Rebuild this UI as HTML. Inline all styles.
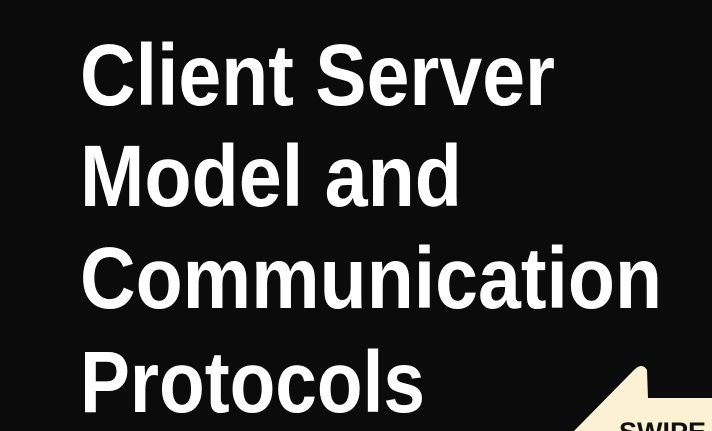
<!DOCTYPE html>
<html><head><meta charset="utf-8"><style>
html,body{margin:0;padding:0;background:#0b0b0b;overflow:hidden}
svg{display:block}
</style></head><body>
<svg width="712" height="431" viewBox="0 0 712 431" xmlns="http://www.w3.org/2000/svg">
<rect width="712" height="431" fill="#0b0b0b"/>
<g fill="#ffffff" font-family="Liberation Sans, sans-serif" font-weight="bold" font-size="87">
<text x="80" y="105" textLength="475" lengthAdjust="spacingAndGlyphs">Client Server</text>
<text x="80" y="206" textLength="382" lengthAdjust="spacingAndGlyphs">Model and</text>
<text x="80" y="308" textLength="582" lengthAdjust="spacingAndGlyphs">Communication</text>
<text x="80" y="412" textLength="345" lengthAdjust="spacingAndGlyphs">Protocols</text>
</g>
<path d="M574 431 L634 370 Q642 362 647 370 L648 398 L712 398 L712 431 Z" fill="#fdf1d3"/>
<text x="619" y="441" font-family="Liberation Sans, sans-serif" font-weight="bold" font-size="27" fill="#111">SWIPE</text>
</svg>
</body></html>
